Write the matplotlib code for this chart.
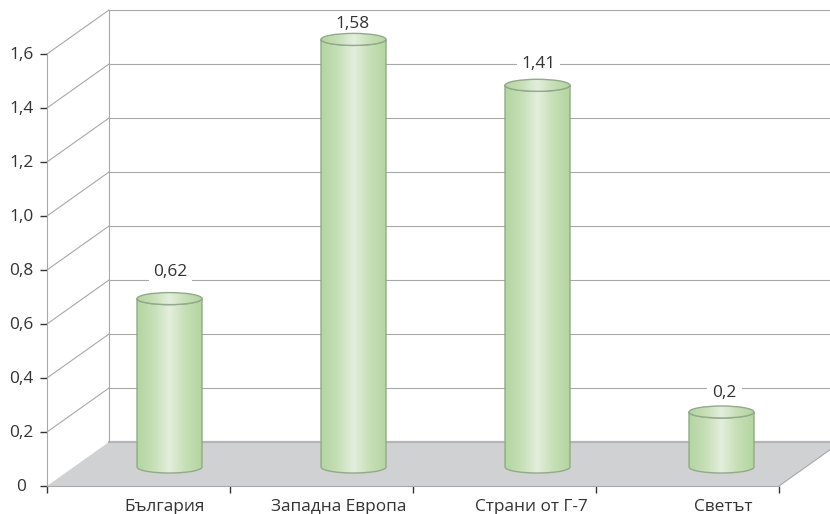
import numpy as np
import matplotlib
matplotlib.use("Agg")
import matplotlib.pyplot as plt
from matplotlib.colors import LinearSegmentedColormap
from matplotlib.patches import Ellipse, PathPatch, Polygon
from matplotlib.path import Path
from matplotlib.transforms import ScaledTranslation

categories = ["България", "Западна Европа", "Страни от Г-7", "Светът"]
values = [0.62, 1.58, 1.41, 0.2]
value_labels = ["0,62", "1,58", "1,41", "0,2"]
y_ticks = [0, 0.2, 0.4, 0.6, 0.8, 1.0, 1.2, 1.4, 1.6]
y_tick_labels = ["0", "0,2", "0,4", "0,6", "0,8", "1,0", "1,2", "1,4", "1,6"]

W, H = 830, 514
X0, X1 = 47, 779     # front plane of the fake 3D box, in pixels
Y0, Y16 = 486, 54
PX_X = (X1 - X0) / 4
PX_Y = (Y0 - Y16) / 1.6
DX = 62 / PX_X       # depth of the box
DY = 44 / PX_Y

plt.rcParams["font.family"] = ["Open Sans", "DejaVu Sans"]
TEXT = "#333333"
LINE = "#a8a8a8"
FONT = 12.4

fig = plt.figure(figsize=(W / 100, H / 100), dpi=100)
ax = fig.add_axes([X0 / W, 1 - Y0 / H, (X1 - X0) / W, (Y0 - Y16) / H])
ax.patch.set_visible(False)

# floor
floor = Polygon([(0, 0), (4, 0), (4 + DX, DY), (DX, DY)], closed=True,
                facecolor="#d0d1d3", edgecolor="none", clip_on=False, zorder=1)
ax.add_patch(floor)

# walls
right_edge = (W - X0) / PX_X
for v in y_ticks:
    if v > 0:
        ax.plot([0, DX], [v, v + DY], color=LINE, lw=0.8, clip_on=False, zorder=1.5)
    ax.plot([DX, right_edge], [v + DY, v + DY], color="#b5b5b5" if v == 0 else LINE,
            lw=1.6 if v == 0 else 0.8, clip_on=False, zorder=1.5)
ax.plot([DX, DX], [DY, 1.6 + DY], color=LINE, lw=0.8, clip_on=False, zorder=1.5)
ax.plot([4, 4 + DX], [0, DY], color=LINE, lw=0.8, clip_on=False, zorder=1.5)

# cylinders
cmap = LinearSegmentedColormap.from_list(
    "cyl", ["#b4d5a0", "#c6dfb6", "#e3eedd", "#c6dfb6", "#b4d5a0"])
gradient = np.linspace(0, 1, 256).reshape(1, -1)
RX = 32.5 / PX_X
RY = 6 / PX_Y
BASE = 19 / PX_Y
LIFT = 1 / PX_Y
EDGE = "#93a98b"
label_gap_px = [27, 15, 21, 19]
label_shift_px = [1, -1, 1, 3]

for i, v in enumerate(values):
    cx = 0.5 + DX / 2 + i * 184 / 183
    top = BASE + LIFT + v
    t = np.linspace(np.pi, 2 * np.pi, 60)
    xs = np.r_[cx + RX * np.cos(t), cx + RX * np.cos(t[::-1]), cx - RX]
    ys = np.r_[BASE + RY * np.sin(t), top + RY * np.sin(t[::-1]), BASE]
    body = PathPatch(Path(np.c_[xs, ys]), facecolor="none", edgecolor=EDGE, lw=1,
                     clip_on=False, zorder=3.1)
    ax.add_patch(body)
    im = ax.imshow(gradient, cmap=cmap, aspect="auto", zorder=3, interpolation="bilinear",
                   extent=[cx - RX, cx + RX, BASE - RY, top + RY])
    im.set_clip_box(fig.bbox)
    im.set_clip_path(body)

    cap = Ellipse((cx, top), 2 * RX, 2 * RY, facecolor="none", edgecolor=EDGE, lw=1,
                  clip_on=False, zorder=3.3)
    ax.add_patch(cap)
    im2 = ax.imshow(gradient, cmap=cmap, aspect="auto", zorder=3.2, interpolation="bilinear",
                    extent=[cx - RX, cx + RX, top - RY, top + RY])
    im2.set_clip_box(fig.bbox)
    im2.set_clip_path(cap)

    # labels sit under the cylinders so the white box never cuts a cap
    ax.annotate(value_labels[i], (cx, top),
                xytext=(label_shift_px[i] * 0.72, label_gap_px[i] * 0.72),
                textcoords="offset points", ha="center", va="center", fontsize=FONT,
                color=TEXT, zorder=2, annotation_clip=False,
                bbox=dict(facecolor="white", edgecolor="none", pad=3.5))

ax.set_xlim(0, 4)
ax.set_ylim(0, 1.6)

for side in ["top", "right"]:
    ax.spines[side].set_visible(False)
ax.spines["left"].set_color(LINE)
ax.spines["bottom"].set_color(LINE)
ax.spines["left"].set_zorder(1.6)
ax.spines["bottom"].set_zorder(1.6)

ax.set_yticks(y_ticks)
ax.set_yticklabels(y_tick_labels, fontsize=FONT, color=TEXT, ha="center")
ax.tick_params(axis="y", length=5, width=1, color="#333333", pad=13.5)
up = ScaledTranslation(0, 1 / 100, fig.dpi_scale_trans)
for lab in ax.get_yticklabels():
    lab.set_transform(lab.get_transform() + up)
ax.set_xticks([0, 1, 2, 3, 4])
ax.set_xticklabels([])
ax.tick_params(axis="x", length=5, width=1, color="#333333")

label_x_px = [164.5, 338.5, 531, 723.5]
ax.set_xticks([(p - X0) / PX_X for p in label_x_px], minor=True)
ax.set_xticklabels(categories, minor=True, fontsize=FONT, color=TEXT)
ax.tick_params(axis="x", which="minor", length=0, pad=9.5)

fig.savefig("out.png", dpi=100)
